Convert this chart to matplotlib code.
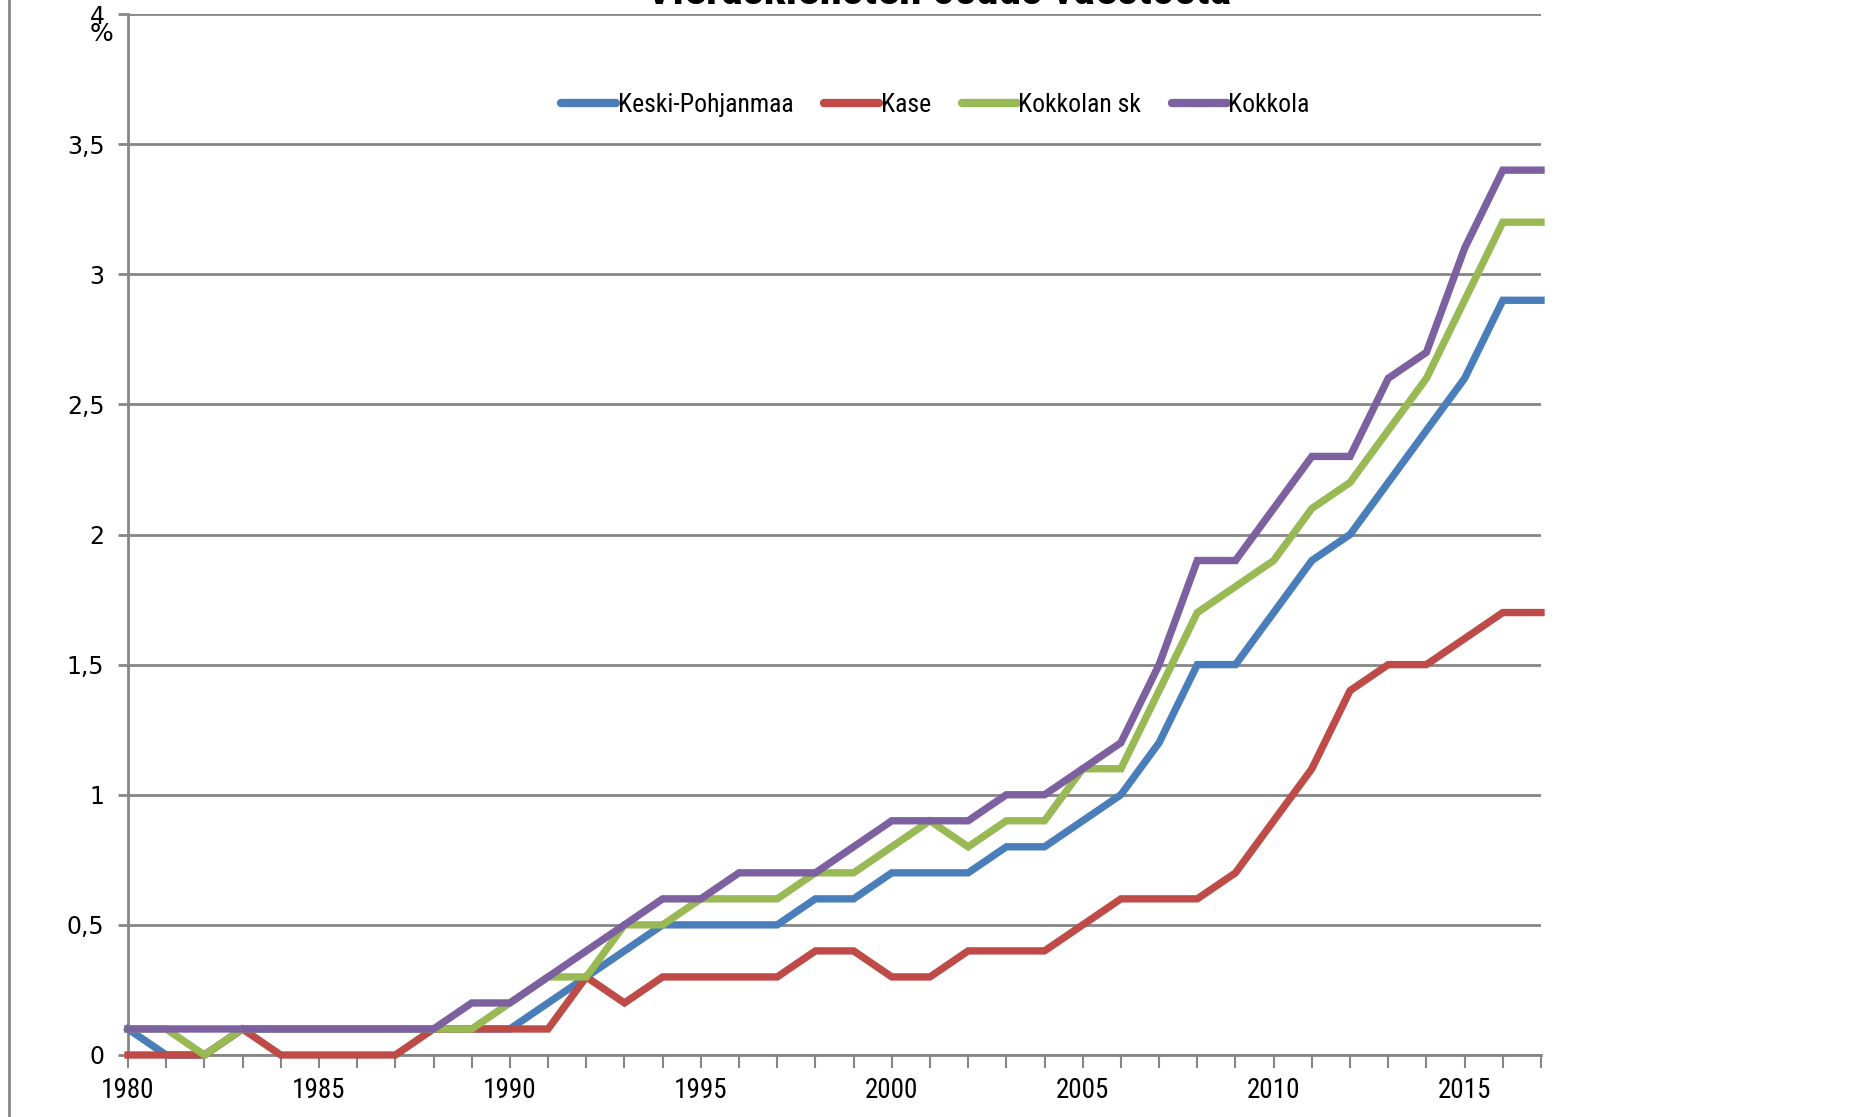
import matplotlib
matplotlib.use("Agg")
import matplotlib.pyplot as plt
from matplotlib.lines import Line2D
from matplotlib.ticker import FuncFormatter, MultipleLocator

years = list(range(1980, 2018))

keski_pohjanmaa = [0.1, 0.0, 0.0, 0.1, 0.1, 0.1, 0.1, 0.1, 0.1, 0.1,
                   0.1, 0.2, 0.3, 0.4, 0.5, 0.5, 0.5, 0.5, 0.6, 0.6,
                   0.7, 0.7, 0.7, 0.8, 0.8, 0.9, 1.0, 1.2, 1.5, 1.5,
                   1.7, 1.9, 2.0, 2.2, 2.4, 2.6, 2.9, 2.9]
kase = [0.0, 0.0, 0.0, 0.1, 0.0, 0.0, 0.0, 0.0, 0.1, 0.1,
        0.1, 0.1, 0.3, 0.2, 0.3, 0.3, 0.3, 0.3, 0.4, 0.4,
        0.3, 0.3, 0.4, 0.4, 0.4, 0.5, 0.6, 0.6, 0.6, 0.7,
        0.9, 1.1, 1.4, 1.5, 1.5, 1.6, 1.7, 1.7]
kokkolan_sk = [0.1, 0.1, 0.0, 0.1, 0.1, 0.1, 0.1, 0.1, 0.1, 0.1,
               0.2, 0.3, 0.3, 0.5, 0.5, 0.6, 0.6, 0.6, 0.7, 0.7,
               0.8, 0.9, 0.8, 0.9, 0.9, 1.1, 1.1, 1.4, 1.7, 1.8,
               1.9, 2.1, 2.2, 2.4, 2.6, 2.9, 3.2, 3.2]
kokkola = [0.1, 0.1, 0.1, 0.1, 0.1, 0.1, 0.1, 0.1, 0.1, 0.2,
           0.2, 0.3, 0.4, 0.5, 0.6, 0.6, 0.7, 0.7, 0.7, 0.8,
           0.9, 0.9, 0.9, 1.0, 1.0, 1.1, 1.2, 1.5, 1.9, 1.9,
           2.1, 2.3, 2.3, 2.6, 2.7, 3.1, 3.4, 3.4]

series = [
    ("Keski-Pohjanmaa", keski_pohjanmaa, "#4a7ebb"),
    ("Kase", kase, "#be4b48"),
    ("Kokkolan sk", kokkolan_sk, "#98b954"),
    ("Kokkola", kokkola, "#7d60a0"),
]

title = "Vieraskielisten osuus väestöstä"
narrow = ["Liberation Sans Narrow", "Roboto Condensed", "DejaVu Sans"]
grid_col = "#868686"

W, H = 1855, 1117
fig = plt.figure(figsize=(W / 100, H / 100), dpi=100)
ax = fig.add_axes([128 / W, 1 - 1055 / H, (1541 - 128) / W, (1055 - 14) / H])

for name, vals, col in series:
    ax.plot(years, vals, color=col, lw=5.3, label=name,
            solid_joinstyle="miter", clip_on=False, zorder=3)

ax.set_xlim(1980, 2017)
ax.set_ylim(0, 4)
ax.yaxis.set_major_locator(MultipleLocator(0.5))
ax.xaxis.set_major_locator(MultipleLocator(1))
ax.xaxis.set_major_formatter(
    FuncFormatter(lambda v, p: str(int(v)) if int(v) % 5 == 0 else ""))
ax.yaxis.set_major_formatter(
    FuncFormatter(lambda v, p: ("%g" % v).replace(".", ",")))

ax.grid(axis="y", color=grid_col, lw=2, zorder=1)
for s in ["top", "right"]:
    ax.spines[s].set_visible(False)
for s in ["left", "bottom"]:
    ax.spines[s].set_color(grid_col)
    ax.spines[s].set_linewidth(2)
ax.tick_params(axis="y", length=7, width=2, color=grid_col, pad=10,
               labelsize=17, labelcolor="black")
ax.tick_params(axis="x", length=9, width=1.5, color=grid_col, pad=7,
               labelsize=19.5)
for lab in ax.get_xticklabels():
    lab.set_family(narrow)
    lab.set_stretch("condensed")

ax.text(-0.019, 0.981, "%", transform=ax.transAxes, ha="center", va="center",
        fontsize=18)

handles = [Line2D([], [], color=c, lw=6, solid_capstyle="round")
           for _, _, c in series]
leg = ax.legend(handles, [n for n, _, _ in series], loc="center",
                bbox_to_anchor=(0.5715, 0.913), ncol=4, frameon=False,
                handlelength=2.15, handletextpad=0.05, columnspacing=1.2,
                prop={"family": narrow, "size": 18.5, "stretch": "condensed"})

fig.text(939 / W, 1 - 4 / H, title, ha="center", va="baseline",
         fontsize=33, fontweight="bold", family=narrow, stretch="condensed")

# chart frame edge on the left
fig.add_artist(Line2D([9 / W, 9 / W], [0, 1], color=grid_col, lw=2,
                      transform=fig.transFigure))

fig.savefig("out.png", dpi=100)
